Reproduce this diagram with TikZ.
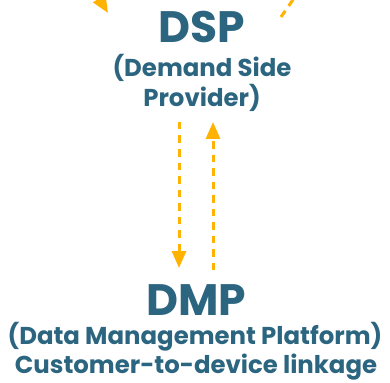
\documentclass[tikz,border=0pt]{standalone}
\usepackage{fontspec}
\setmainfont{Poppins}
\usetikzlibrary{arrows.meta}
\definecolor{txtblue}{HTML}{2C6580}
\definecolor{arrorange}{HTML}{FFB300}
\begin{document}
\begin{tikzpicture}[x=1pt,y=-1pt,
  title/.style={font=\fontsize{44}{44}\selectfont\bfseries, text=txtblue, inner sep=0pt, anchor=base},
  sub/.style={font=\fontsize{24.4}{30}\selectfont\bfseries, text=txtblue, inner sep=0pt, anchor=base, align=center},
  flow/.style={draw=arrorange, line width=3pt, dash pattern=on 7.5pt off 6pt},
  tip/.style={-{Triangle[width=14pt,length=17pt]}}]
\useasboundingbox (0,0) rectangle (390,382);
\clip (0,0) rectangle (390,382);
% DSP block
\node[title] (dsp) at (202,43) {DSP};
\node[sub] (dspsub1) at (202,77) {(Demand Side};
\node[sub] (dspsub2) at (202,107) {Provider)};
% DMP block
\node[title] (dmp) at (196,315) {DMP};
\node[sub] (dmpsub1) at (195,344) {(Data Management Platform)};
\node[sub] (dmpsub2) at (196,373) {Customer-to-device linkage};
% connectors
\coordinate (d1) at (179,122);
\coordinate (d2) at (179,268);
\coordinate (u1) at (213,270);
\coordinate (u2) at (213,122);
\draw[flow,tip] (d1) -- (d2);
\draw[flow,tip] (u1) -- (u2);
% partial arrows entering from above
\coordinate (a1) at (77,-38);
\coordinate (a2) at (108,13);
\draw[flow,tip] (a1) -- (a2);
\coordinate (b1) at (281,17);
\coordinate (b2) at (297,-6);
\draw[flow] (b1) -- (b2);
\end{tikzpicture}
\end{document}
